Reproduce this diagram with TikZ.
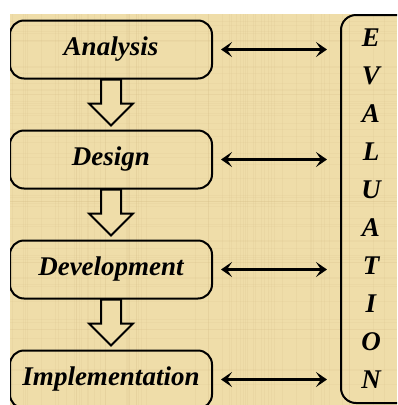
\documentclass[tikz,border=0pt]{standalone}
\usepackage{fontspec}
\setmainfont{Liberation Serif}
\usetikzlibrary{positioning, arrows.meta, calc}
\definecolor{parchment}{RGB}{239,221,169}
\definecolor{fibre}{RGB}{214,192,136}
\tikzset{
    stage/.style={draw, line width=2pt, rounded corners=14pt, minimum width=202pt, minimum height=58pt,
        font=\fontsize{27}{30}\selectfont\bfseries\itshape},
    hollow/.style={draw, line width=2pt, fill=parchment, line join=miter},
    link/.style={<->, >={Stealth[length=11pt, width=15pt, inset=5pt]}, line width=2.6pt,
        shorten <=8pt, shorten >=13pt},
}

\begin{document}
\begin{tikzpicture}[x=1pt, y=-1pt, node distance=50pt]
    \useasboundingbox (0,0) rectangle (397,405);
    \clip (10,14) rectangle (397,405);
    \fill[parchment] (10,14) rectangle (397,405);

    % paper fibres
    \pgfmathsetseed{11}
    \foreach \i in {1,...,60} {
        \pgfmathsetmacro{\fx}{10+387*rnd}
        \pgfmathsetmacro{\fy}{14+391*rnd}
        \draw[fibre, opacity=0.18, line width=1pt] (\fx,14) -- (\fx,405);
        \draw[fibre, opacity=0.14, line width=1pt] (10,\fy) -- (397,\fy);
    }

    \node[stage] (ana) at (111,49.5) {Analysis};
    \node[stage, below=of ana] (des) {Design};
    \node[stage, below=of des] (dev) {Development};
    \node[stage, below=of dev] (imp) {Implementation};

    % evaluation column, running past the right edge
    \node[draw, line width=2pt, rounded corners=15pt, minimum width=72pt, minimum height=388pt]
        (eval) at (377,209) {};
    \node[align=center, font=\fontsize{27}{38}\selectfont\bfseries\itshape] (evtext) at (371,209)
        {E\\V\\A\\L\\U\\A\\T\\I\\O\\N};

    % hollow arrows between stages
    \foreach \a/\b in {ana/des, des/dev, dev/imp}
        \path[hollow] ($(\a.south)+(-10,0)$) -- ++(0,24) -- ++(-12,0) -- ($(\a.south)+(0,46)$)
            -- ++(22,-22) -- ++(-12,0) -- ++(0,-24) -- cycle;

    % links to evaluation
    \foreach \s in {ana, des, dev, imp}
        \draw[link] (\s.east) -- (\s.east -| eval.west);
\end{tikzpicture}
\end{document}
